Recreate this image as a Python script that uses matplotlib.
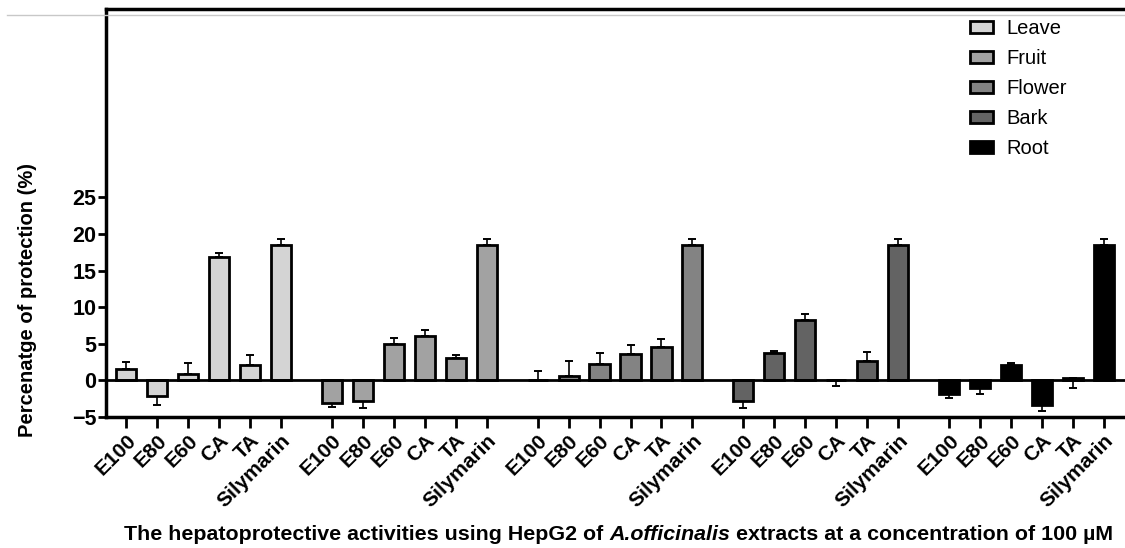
import numpy as np
import matplotlib
matplotlib.use("Agg")
import matplotlib.pyplot as plt
from matplotlib.lines import Line2D
from matplotlib.patches import Patch
from matplotlib.offsetbox import TextArea, HPacker, AnchoredOffsetbox

plt.rcParams['font.family'] = ['Liberation Sans', 'DejaVu Sans']

# data
parts = ['Leave', 'Fruit', 'Flower', 'Bark', 'Root']
samples = ['E100', 'E80', 'E60', 'CA', 'TA', 'Silymarin']
colors = ['#d4d4d4', '#a2a2a2', '#838383', '#636363', '#000000']

leave = [1.5, -2.1, 0.9, 16.9, 2.1, 18.5]
fruit = [-3.1, -2.8, 5.0, 6.0, 3.0, 18.5]
flower = [0.05, 0.6, 2.3, 3.6, 4.6, 18.5]
bark = [-2.8, 3.8, 8.2, 0.1, 2.7, 18.5]
root = [-1.9, -1.0, 2.05, -3.4, 0.3, 18.5]

# signed error: positive drawn upwards, negative downwards
leave_err = [1.05, -1.2, 1.45, 0.45, 1.4, 0.8]
fruit_err = [-0.5, -0.9, 0.8, 0.9, 0.4, 0.8]
flower_err = [1.3, 2.0, 1.4, 1.3, 1.1, 0.8]
bark_err = [-1.0, 0.27, 0.8, -0.8, 1.2, 0.8]
root_err = [-0.5, -0.8, 0.35, -0.73, -1.4, 0.8]

values = [leave, fruit, flower, bark, root]
errors = [leave_err, fruit_err, flower_err, bark_err, root_err]

fig = plt.figure(figsize=(11.25, 5.48), dpi=100)
ax = fig.add_axes([0.0942, 0.239, 0.9058, 0.7446])

gap = 0.645
width = 0.65
ticks = []
labels = []
for g in range(len(parts)):
    x = np.arange(len(samples)) + g * (len(samples) + gap)
    v = np.array(values[g])
    e = np.array(errors[g])
    lo = np.where(e < 0, -e, 0)
    hi = np.where(e > 0, e, 0)
    ax.errorbar(x, v, yerr=[lo, hi], fmt='none', ecolor='black',
                elinewidth=1.2, capsize=3, capthick=1.4, zorder=2)
    ax.bar(x, v, width=width, color=colors[g], edgecolor='black',
           linewidth=2, zorder=3)
    ticks.extend(x)
    labels.extend(samples)

ax.axhline(0, color='black', lw=2, zorder=4)

ax.set_xlim(ticks[0] - 0.65, ticks[-1] + 0.68)
ax.set_ylim(-5, 50.7)
ax.set_yticks([-5, 0, 5, 10, 15, 20, 25])
ax.set_xticks(ticks)
ax.set_xticklabels(labels, rotation=45, ha='right', rotation_mode='anchor',
                   fontweight='bold', fontsize=15)
for lab in ax.get_yticklabels():
    lab.set_fontweight('bold')
    lab.set_fontsize(15.5)
ax.tick_params(axis='y', length=6, width=2, pad=1)
ax.tick_params(axis='x', length=8, width=2, pad=2)

for s in ['left', 'bottom', 'top']:
    ax.spines[s].set_linewidth(2.5)
ax.spines['right'].set_visible(False)

ax.set_ylabel('Percenatge of protection (%)', fontweight='bold', fontsize=14.5,
              y=0.287, labelpad=25)

handles = [Patch(facecolor=c, edgecolor='black', linewidth=2) for c in colors]
ax.legend(handles, parts, loc='upper left', bbox_to_anchor=(0.83, 1.02),
          frameon=False, fontsize=14.5, handlelength=1.15, handleheight=0.55,
          labelspacing=0.55, handletextpad=0.65)

# x label with italic species name
fs = 15.4
t1 = TextArea('The hepatoprotective activities using HepG2 of ',
              textprops=dict(fontweight='bold', fontsize=fs))
t2 = TextArea('A.officinalis', textprops=dict(fontweight='bold', fontstyle='italic',
                                               fontsize=fs))
t3 = TextArea(' extracts at a concentration of 100 µM',
              textprops=dict(fontweight='bold', fontsize=fs))
box = HPacker(children=[t1, t2, t3], align='baseline', pad=0, sep=0)
anch = AnchoredOffsetbox(loc='center', child=box, frameon=False,
                         bbox_to_anchor=(0.55, 0.024), bbox_transform=fig.transFigure,
                         pad=0, borderpad=0)
fig.add_artist(anch)

# thin grey line near the top edge
fig.add_artist(Line2D([0.006, 1.0], [0.973, 0.973], color='#c8c8c8', lw=1))

fig.savefig('out.png', dpi=100)
